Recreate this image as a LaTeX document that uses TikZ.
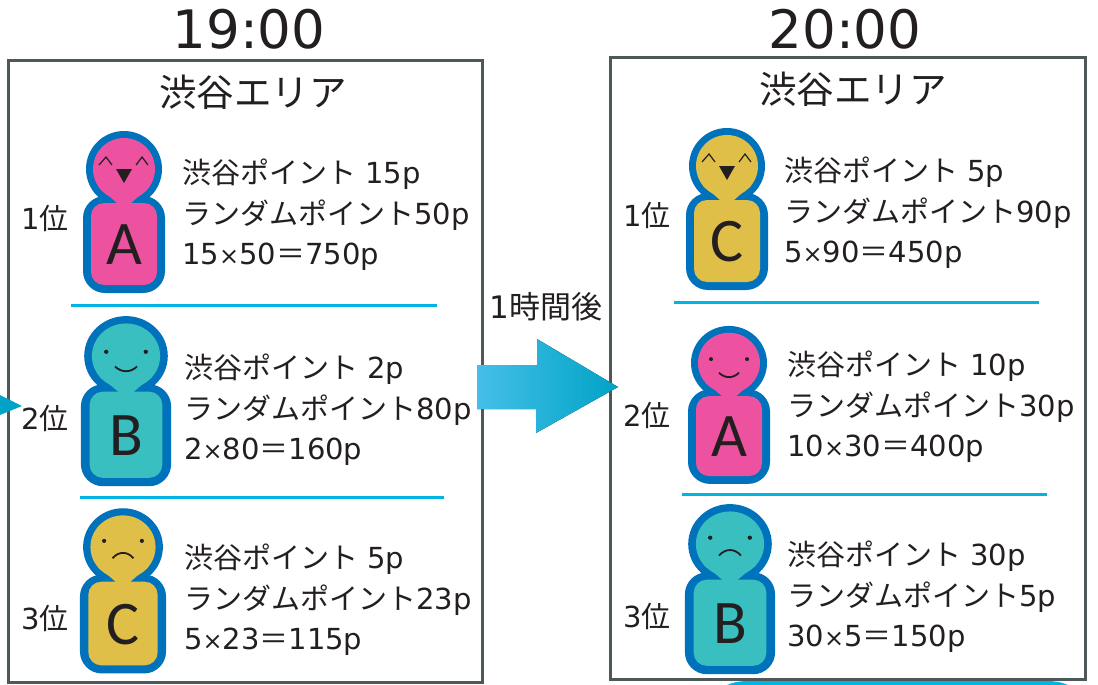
\documentclass[tikz,border=0pt]{standalone}
\usepackage{fontspec}
\setmainfont{DejaVu Sans}
\newfontfamily\jp{Noto Sans CJK JP}
\newfontfamily\letterfont{Carlito}
\definecolor{inkgray}{HTML}{231F20}
\definecolor{framegray}{HTML}{4F5858}
\definecolor{robeblue}{HTML}{0072BC}
\definecolor{linecyan}{HTML}{00B5E2}
\definecolor{arrowstart}{HTML}{45BFE8}
\definecolor{arrowmid}{HTML}{00AFD6}
\definecolor{arrowend}{HTML}{00A3C6}
\definecolor{pinkp}{HTML}{EC52A0}
\definecolor{tealp}{HTML}{3ABFC0}
\definecolor{yellowp}{HTML}{E0BF48}
\newcommand{\bytimes}{{\fontsize{24}{24}\selectfont ×}}
% faces
\newcommand{\facehappy}{
    \draw[faceline] (-25,-4) -- (-18,-12) -- (-12,-4);
    \draw[faceline] (12,-4) -- (18,-12) -- (24,-4);
    \fill[inkgray] (-8,0) -- (8,0) -- (0,14) -- cycle;
}
\newcommand{\facesmile}{
    \fill[inkgray] (-18,-4) circle (2);
    \fill[inkgray] (18,-4) circle (2);
    \draw[faceline, line width=1.8pt] (-10,10) .. controls (-4,16) and (4,16) .. (10,10);
}
\newcommand{\facefrown}{
    \fill[inkgray] (-18,-6) circle (2);
    \fill[inkgray] (18,-6) circle (2);
    \draw[faceline, line width=1.8pt] (-10,11) .. controls (-4,4) and (4,4) .. (10,11);
}
% name, x, y, xscale, yscale, colour, letter, face
\newcommand{\person}[8]{
    \begin{scope}[shift={(#2,#3)}, xscale=#4, yscale=#5]
        \fill[robeblue] (0,0) circle (38);
        \fill[robeblue, rounded corners=22] (-41,27) rectangle (41,124);
        \fill[#6] (0,0) circle (31);
        \fill[#6] (-24,20) .. controls (-16,26) .. (-6,35) -- (6,35) .. controls (16,26) .. (24,20) -- cycle;
        \fill[#6, rounded corners=13] (-33,34) rectangle (33,116);
        #8
        \node[letterbox] (#1) at (0,76) {#7};
    \end{scope}
}
\begin{document}
\begin{tikzpicture}[x=1pt, y=-1pt,
    framebox/.style = {draw=framegray, line width=3pt},
    sepline/.style = {draw=linecyan, line width=3pt},
    faceline/.style = {draw=inkgray, line width=1.2pt},
    letterbox/.style = {inner sep=0, text=inkgray, font=\letterfont\fontsize{62}{62}\selectfont},
    clock/.style = {inner sep=0, text=inkgray, font=\fontsize{53}{53}\selectfont},
    area/.style = {inner sep=0, text=inkgray, font=\jp\fontsize{37.5}{37.5}\selectfont},
    rank/.style = {inner sep=0, text=inkgray, font=\fontsize{29}{29}\selectfont},
    later/.style = {inner sep=0, text=inkgray, font=\fontsize{31}{31}\selectfont},
    info/.style = {inner sep=0, anchor=west, align=left, text=inkgray, font=\fontsize{29}{40.5}\selectfont}]
    \useasboundingbox (0,0) rectangle (1098,685);

    % bottom edge piece
    \fill[linecyan] (727,685) .. controls (735,682) .. (745,681) -- (1050,681) .. controls (1060,682) .. (1068,685) -- cycle;

    \node[clock] (timea) at (249,29) {19:00};
    \node[clock] (timeb) at (845,29) {20:00};
    \draw[framebox] (8,61) rectangle (482,682);
    \draw[framebox] (610,58) rectangle (1085,679);
    \node[area] (areaa) at (253,92) {渋谷エリア};
    \node[area] (areab) at (853,89) {渋谷エリア};

    \fill[left color=arrowstart, middle color=arrowmid, right color=arrowend]
        (477,365) -- (537,365) -- (537,339) -- (618,387) -- (536,433) -- (536,409) -- (477,409) -- cycle;
    \fill[arrowend] (0,395) -- (22,406) -- (0,415) -- cycle;
    \node[later] (after) at (546,307) {1{\jp 時間後}};

    % left column
    \person{pa1}{124}{169}{1}{1}{pinkp}{A}{\facehappy}
    \person{pb1}{126}{356}{1.1}{1.05}{tealp}{B}{\facesmile}
    \person{pc1}{123}{547}{1.05}{1.02}{yellowp}{C}{\facefrown}
    \node[rank] (ra1) at (45,218) {1{\jp 位}};
    \node[rank] (ra2) at (45,418) {2{\jp 位}};
    \node[rank] (ra3) at (45,618) {3{\jp 位}};
    \node[info] (ia1) at (182,215) {{\jp 渋谷ポイント} 15p\\{\jp ランダムポイント}50p\\15\bytimes 50{\jp ＝}750p};
    \node[info] (ia2) at (184,410) {{\jp 渋谷ポイント} 2p\\{\jp ランダムポイント}80p\\2\bytimes 80{\jp ＝}160p};
    \node[info] (ia3) at (184,600) {{\jp 渋谷ポイント} 5p\\{\jp ランダムポイント}23p\\5\bytimes 23{\jp ＝}115p};
    \draw[sepline] (71,305) -- (437,305);
    \draw[sepline] (80,497) -- (444,497);

    % right column
    \person{pc2}{727}{166}{1}{1}{yellowp}{C}{\facehappy}
    \person{pa2}{729}{363}{1}{.975}{pinkp}{A}{\facesmile}
    \person{pb2}{730}{544}{1.1}{1.05}{tealp}{B}{\facefrown}
    \node[rank] (rb1) at (647,215) {1{\jp 位}};
    \node[rank] (rb2) at (647,415) {2{\jp 位}};
    \node[rank] (rb3) at (647,616) {3{\jp 位}};
    \node[info] (ib1) at (784,213) {{\jp 渋谷ポイント} 5p\\{\jp ランダムポイント}90p\\5\bytimes 90{\jp ＝}450p};
    \node[info] (ib2) at (787,407) {{\jp 渋谷ポイント} 10p\\{\jp ランダムポイント}30p\\10\bytimes 30{\jp ＝}400p};
    \node[info] (ib3) at (787,597) {{\jp 渋谷ポイント} 30p\\{\jp ランダムポイント}5p\\30\bytimes 5{\jp ＝}150p};
    \draw[sepline] (674,302) -- (1039,302);
    \draw[sepline] (682,494) -- (1047,494);
\end{tikzpicture}
\end{document}
